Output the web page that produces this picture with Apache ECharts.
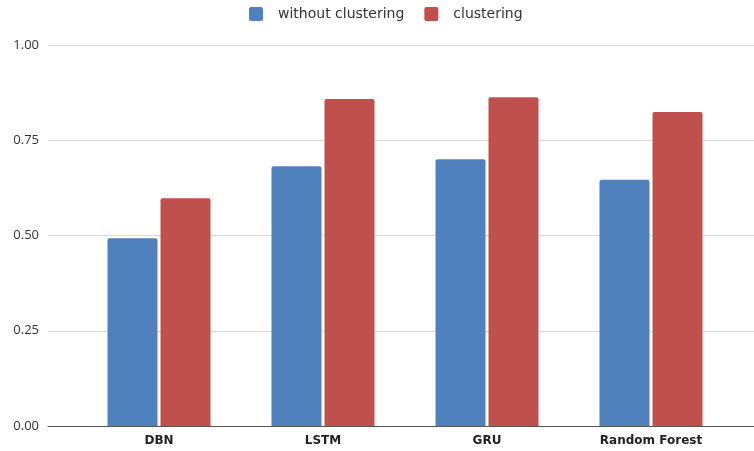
<!DOCTYPE html>
<html>
<head>
<meta charset="utf-8">
<script src="https://cdn.jsdelivr.net/npm/echarts@6/dist/echarts.min.js"></script>
<style>html,body{margin:0;padding:0;background:#fff}#c{width:754px;height:451px}</style>
</head>
<body>
<div id="c"></div>
<script>
const categories = ['DBN', 'LSTM', 'GRU', 'Random Forest'];
const withoutClustering = [0.493, 0.682, 0.700, 0.646];
const withClustering = [0.598, 0.858, 0.863, 0.824];
const yTicks = [0, 0.25, 0.5, 0.75, 1.0];

const chart = echarts.init(document.getElementById('c'), null, {renderer: 'canvas'});
const font = 'DejaVu Sans, sans-serif';
const yFont = 'Open Sans, sans-serif';
chart.setOption({
  animation: false,
  legend: {
    top: 2, left: 244,
    itemWidth: 14, itemHeight: 14, itemGap: 20,
    icon: 'path://M2,0 L12,0 Q14,0 14,2 L14,12 Q14,14 12,14 L2,14 Q0,14 0,12 L0,2 Q0,0 2,0 Z',
    textStyle: {fontFamily: font, fontSize: 14, color: '#333', padding: [0, 0, 0, 10]},
    data: ['without clustering', 'clustering']
  },
  grid: [
    {left: 77, right: 21, top: 45, bottom: 25, containLabel: false},
    {left: 48, right: 0, top: 45, bottom: 25, containLabel: false}
  ],
  xAxis: [
    {
      type: 'category', gridIndex: 0, data: categories,
      axisLine: {show: false}, axisTick: {show: false},
      axisLabel: {fontFamily: font, fontSize: 12, color: '#222', fontWeight: 'bold', margin: 9}
    },
    {
      type: 'value', gridIndex: 1, min: 0, max: 1,
      axisLine: {show: true, onZero: false, lineStyle: {color: '#555', width: 1}},
      axisTick: {show: false}, axisLabel: {show: false}, splitLine: {show: false}
    }
  ],
  yAxis: [
    {
      type: 'value', gridIndex: 0, min: 0, max: 1, interval: 0.25,
      axisLine: {show: false}, axisTick: {show: false}, axisLabel: {show: false}, splitLine: {show: false}
    },
    {
      type: 'value', gridIndex: 1, min: 0, max: 1, interval: 0.25,
      axisLine: {show: false}, axisTick: {show: false},
      splitLine: {lineStyle: {color: '#d9d9d9', width: 1}},
      axisLabel: {fontFamily: yFont, fontSize: 13, color: '#333', margin: 9,
        formatter: v => v.toFixed(2)}
    }
  ],
  series: [
    {
      name: 'without clustering', type: 'bar', xAxisIndex: 0, yAxisIndex: 0,
      data: withoutClustering, barWidth: 50, barGap: '6%',
      itemStyle: {color: '#4f81bd', borderRadius: [2, 2, 0, 0]}
    },
    {
      name: 'clustering', type: 'bar', xAxisIndex: 0, yAxisIndex: 0,
      data: withClustering, barWidth: 50, barGap: '6%',
      itemStyle: {color: '#c0504d', borderRadius: [2, 2, 0, 0]}
    }
  ]
});
</script>
</body>
</html>
